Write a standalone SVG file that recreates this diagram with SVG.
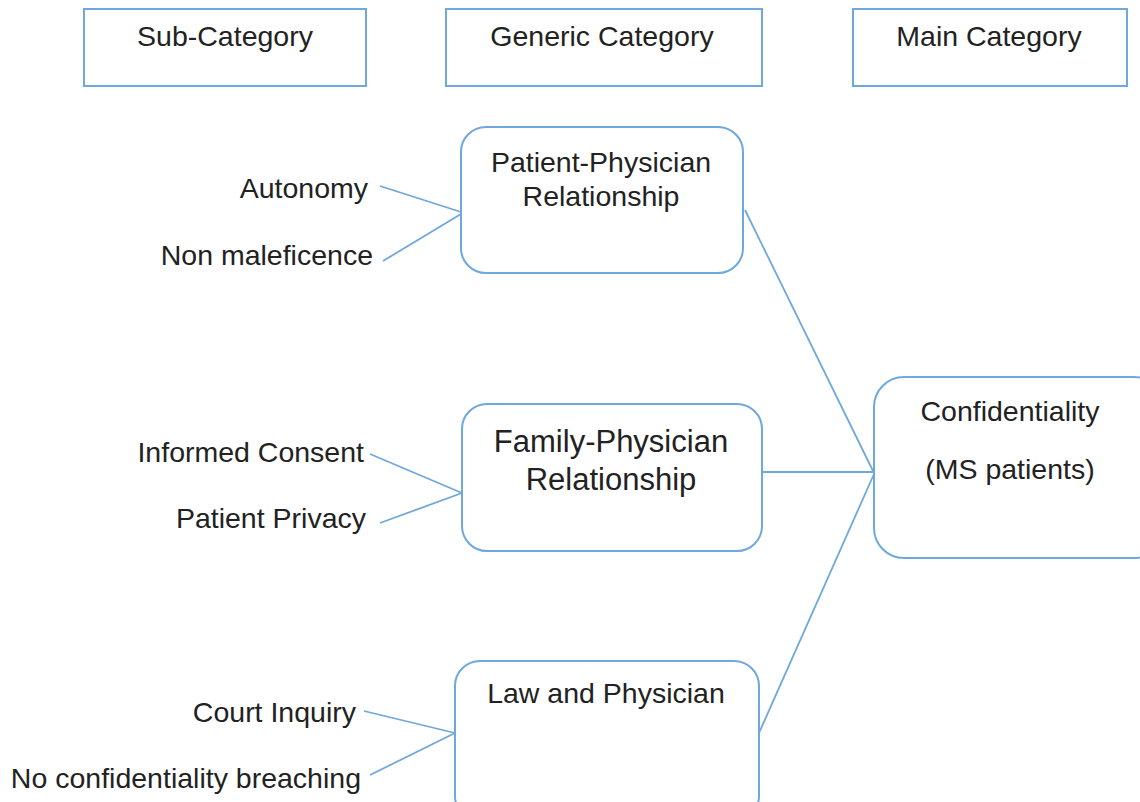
<svg xmlns="http://www.w3.org/2000/svg" width="1140" height="802" viewBox="0 0 1140 802">
<style>
.hdr{fill:#fff;stroke:#6fa8dc;stroke-width:2}
.box{fill:#fff;stroke:#6fa8dc;stroke-width:2}
.t{font-family:"Liberation Sans",Arial,sans-serif;font-size:28.5px;fill:#222}
.c{text-anchor:middle}
.r{text-anchor:end}
.ln{stroke:#6fa8dc;stroke-width:1.8;fill:none}
</style>
<rect width="1140" height="802" fill="#fff"/>
<g id="hdr-sub"><rect class="hdr" x="84" y="9" width="282" height="77"/><text class="t c" x="225" y="46">Sub-Category</text></g>
<g id="hdr-generic"><rect class="hdr" x="446" y="9" width="316" height="77"/><text class="t c" x="602" y="46">Generic Category</text></g>
<g id="hdr-main"><rect class="hdr" x="853" y="9" width="274" height="77"/><text class="t c" x="989" y="46">Main Category</text></g>
<g id="connectors">
<line class="ln" x1="380" y1="186" x2="461" y2="212"/>
<line class="ln" x1="383" y1="261" x2="461" y2="214"/>
<line class="ln" x1="370" y1="454" x2="462" y2="493"/>
<line class="ln" x1="380" y1="523" x2="462" y2="493"/>
<line class="ln" x1="364" y1="711" x2="455" y2="733"/>
<line class="ln" x1="370" y1="775" x2="455" y2="733"/>
<line class="ln" x1="745" y1="210" x2="874" y2="473"/>
<line class="ln" x1="762" y1="472" x2="874" y2="472"/>
<line class="ln" x1="759" y1="733" x2="874" y2="474"/>
</g>
<g id="n-pp"><rect class="box" x="461" y="127" width="282" height="146" rx="25"/><text class="t c" x="601" y="172">Patient-Physician</text><text class="t c" x="601" y="206">Relationship</text></g>
<g id="n-fp"><rect class="box" x="462" y="404" width="300" height="147" rx="25"/><text class="t c" x="611" y="452" style="font-size:31px">Family-Physician</text><text class="t c" x="611" y="490" style="font-size:31px">Relationship</text></g>
<g id="n-lp"><rect class="box" x="455" y="661" width="304" height="160" rx="25"/><text class="t c" x="606" y="703">Law and Physician</text></g>
<g id="n-conf"><rect class="box" x="874" y="377" width="290" height="181" rx="30"/><text class="t c" x="1010" y="421">Confidentiality</text><text class="t c" x="1010" y="479">(MS patients)</text></g>
<g id="labels">
<text class="t r" x="368" y="198">Autonomy</text>
<text class="t r" x="373" y="265">Non maleficence</text>
<text class="t r" x="364" y="462">Informed Consent</text>
<text class="t r" x="366" y="528">Patient Privacy</text>
<text class="t r" x="356" y="722">Court Inquiry</text>
<text class="t r" x="361" y="788">No confidentiality breaching</text>
</g>
</svg>
